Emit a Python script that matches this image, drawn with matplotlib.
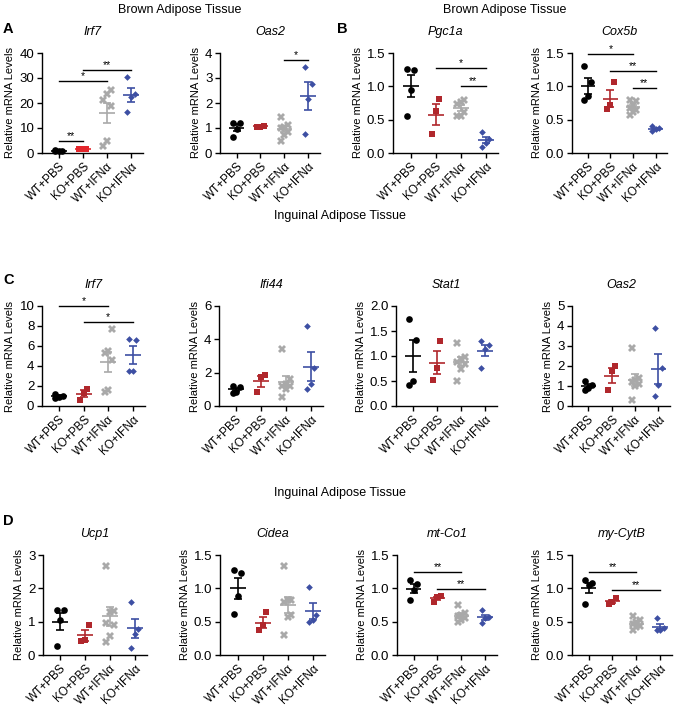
import numpy as np
import matplotlib.pyplot as plt

plt.rcParams['font.family'] = ['Liberation Sans', 'DejaVu Sans']

groups = ["WT+PBS", "KO+PBS", "WT+IFNα", "KO+IFNα"]

# Brown adipose tissue
bat_irf7 = [[0.8, 1.0, 1.1, 1.0], [1.6, 1.6, 1.7],
            [25.3, 23.6, 21.3, 18.7, 4.7, 2.7], [30.3, 23.6, 22.3, 16.3]]
bat_oas2 = [[1.22, 1.2, 0.98, 0.64], [1.1, 1.05, 1.05],
            [1.43, 1.13, 1.06, 1.0, 0.86, 0.73, 0.5], [3.45, 2.75, 2.15, 0.75]]
bat_pgc1a = [[1.25, 1.26, 0.94, 0.56], [0.81, 0.63, 0.28],
             [0.79, 0.77, 0.73, 0.62, 0.56, 0.56], [0.32, 0.21, 0.15, 0.09]]
bat_cox5b = [[1.3, 1.07, 0.85, 0.8], [1.06, 0.72, 0.66],
             [0.8, 0.78, 0.72, 0.67, 0.65, 0.62, 0.57], [0.4, 0.37, 0.36, 0.33]]

# Inguinal adipose tissue
iat_irf7 = [[1.2, 1.0, 0.95, 0.85], [1.75, 1.35, 0.65],
            [7.7, 5.55, 5.3, 4.6, 1.6, 1.4], [6.7, 6.6, 3.5, 3.5]]
iat_ifi44 = [[1.2, 1.15, 0.85, 0.8], [1.85, 1.75, 0.85],
             [3.4, 1.6, 1.3, 1.2, 1.2, 1.0, 0.55], [4.8, 2.3, 1.3, 1.05]]
iat_stat1 = [[1.75, 1.33, 0.5, 0.42], [1.3, 0.77, 0.52],
             [1.27, 0.98, 0.95, 0.88, 0.85, 0.75, 0.5], [1.3, 1.22, 1.15, 0.77]]
iat_oas2 = [[1.25, 1.05, 0.9, 0.8], [2.0, 1.75, 0.78],
            [2.9, 1.4, 1.3, 1.2, 1.1, 1.0, 0.3], [3.9, 1.9, 1.05, 0.5]]
iat_ucp1 = [[1.35, 1.35, 1.05, 0.27], [0.9, 0.45, 0.42],
            [2.68, 1.32, 1.3, 0.95, 0.9, 0.57, 0.38], [1.6, 0.78, 0.62, 0.22]]
iat_cidea = [[1.28, 1.23, 0.88, 0.62], [0.64, 0.45, 0.37],
             [1.33, 0.83, 0.82, 0.8, 0.6, 0.57, 0.3], [1.02, 0.6, 0.52, 0.5]]
iat_mtco1 = [[1.13, 1.07, 0.97, 0.82], [0.88, 0.87, 0.8],
             [0.75, 0.63, 0.6, 0.58, 0.55, 0.53, 0.5], [0.67, 0.57, 0.55, 0.48]]
iat_cytb = [[1.12, 1.08, 1.05, 0.77], [0.85, 0.8, 0.76],
            [0.58, 0.52, 0.5, 0.47, 0.43, 0.42, 0.37], [0.56, 0.4, 0.38, 0.37]]

W, H = 678, 709
fig = plt.figure(figsize=(W / 100, H / 100), dpi=100)


def box(x0, x1, y0, y1):
    return fig.add_axes([x0 / W, 1 - y1 / H, (x1 - x0) / W, (y1 - y0) / H])


def draw(ax, data, yticks, fmt, title, sig=(), red="#b0272c"):
    colors = ["black", red, "#a9a9a9", "#3d4fa3"]
    markers = ["o", "s", "X", "D"]
    msizes = [4.8, 4.4, 5.8, 3.4]
    for i, vals in enumerate(data):
        vals = np.array(vals)
        n = len(vals)
        order = np.argsort(vals)
        offs = np.empty(n)
        offs[order] = ((np.arange(n) % 3) - 1) * 0.15
        ax.plot(i + offs, vals, linestyle="none", marker=markers[i],
                ms=msizes[i], color=colors[i], mew=0, clip_on=False, zorder=3)
        m = vals.mean()
        se = vals.std(ddof=1) / np.sqrt(n)
        ax.hlines(m, i - 0.32, i + 0.32, color=colors[i], lw=1.2, zorder=4)
        ax.errorbar(i, m, yerr=se, color=colors[i], capsize=3.2, lw=1.2,
                    capthick=1.2, zorder=4)
    for a, b, y, lab in sig:
        ax.plot([a, b], [y, y], color="black", lw=1, clip_on=False)
        ax.text((a + b) / 2, y, lab, ha="center", va="bottom", fontsize=7.5)
    ax.set_xlim(-0.7, 3.5)
    ax.set_ylim(yticks[0], yticks[-1])
    ax.set_yticks(yticks)
    ax.set_yticklabels([fmt.format(t) for t in yticks], fontsize=9.5)
    ax.set_xticks(range(4))
    ax.set_xticklabels(groups, rotation=45, ha="right", rotation_mode="anchor",
                       fontsize=8.5)
    ax.tick_params(direction="out", length=3.5, width=1, pad=2)
    for s in ["top", "right"]:
        ax.spines[s].set_visible(False)
    for s in ["left", "bottom"]:
        ax.spines[s].set_linewidth(1)
    ax.set_ylabel("Relative mRNA Levels", fontsize=8, labelpad=3)
    ax.set_title(title, fontstyle="italic", fontsize=9, pad=13)


# row A / B
ax = box(42, 143, 53, 153)
draw(ax, bat_irf7, [0, 10, 20, 30, 40], "{:.0f}", "Irf7",
     [(0, 1, 4.7, "**"), (0, 2, 28.7, "*"), (1, 3, 33.3, "**")], red="#e3262c")
ax = box(220, 320, 53, 153)
draw(ax, bat_oas2, [0, 1, 2, 3, 4], "{:.0f}", "Oas2", [(2, 3, 3.73, "*")])
ax = box(393, 498, 53, 153)
draw(ax, bat_pgc1a, [0, 0.5, 1.0, 1.5], "{:.1f}", "Pgc1a",
     [(1, 3, 1.27, "*"), (2, 3, 1.0, "**")])
ax = box(572, 667, 53, 153)
draw(ax, bat_cox5b, [0, 0.5, 1.0, 1.5], "{:.1f}", "Cox5b",
     [(0, 2, 1.48, "*"), (1, 3, 1.23, "**"), (2, 3, 0.98, "**")])

# row C
ax = box(42, 145, 306, 406)
draw(ax, iat_irf7, [0, 2, 4, 6, 8, 10], "{:.0f}", "Irf7",
     [(0, 2, 10.0, "*"), (1, 3, 8.37, "*")])
ax = box(219, 323, 306, 406)
draw(ax, iat_ifi44, [0, 2, 4, 6], "{:.0f}", "Ifi44")
ax = box(396, 497, 306, 406)
draw(ax, iat_stat1, [0, 0.5, 1.0, 1.5, 2.0], "{:.1f}", "Stat1")
ax = box(572, 670, 306, 406)
draw(ax, iat_oas2, [0, 1, 2, 3, 4, 5], "{:.0f}", "Oas2")

# row D
ax = box(43, 147, 555, 655)
draw(ax, iat_ucp1, [0, 1, 2, 3], "{:.0f}", "Ucp1")
ax = box(220, 325, 555, 655)
draw(ax, iat_cidea, [0, 0.5, 1.0, 1.5], "{:.1f}", "Cidea")
ax = box(397, 497, 555, 655)
draw(ax, iat_mtco1, [0, 0.5, 1.0, 1.5], "{:.1f}", "mt-Co1",
     [(0, 2, 1.24, "**"), (1, 3, 0.99, "**")])
ax = box(572, 672, 555, 655)
draw(ax, iat_cytb, [0, 0.5, 1.0, 1.5], "{:.1f}", "my-CytB",
     [(0, 2, 1.25, "**"), (1, 3, 0.98, "**")])

# section headers and panel letters
fig.text(180 / W, 1 - 10 / H, "Brown Adipose Tissue", ha="center", va="center", fontsize=9)
fig.text(505 / W, 1 - 10 / H, "Brown Adipose Tissue", ha="center", va="center", fontsize=9)
fig.text(340 / W, 1 - 216 / H, "Inguinal Adipose Tissue", ha="center", va="center", fontsize=9)
fig.text(340 / W, 1 - 493 / H, "Inguinal Adipose Tissue", ha="center", va="center", fontsize=9)
for lab, x, y in [("A", 3, 29), ("B", 337, 29), ("C", 3, 280), ("D", 3, 521)]:
    fig.text(x / W, 1 - y / H, lab, ha="left", va="center", fontsize=10.5, fontweight="bold")

fig.savefig("out.png", dpi=100)
